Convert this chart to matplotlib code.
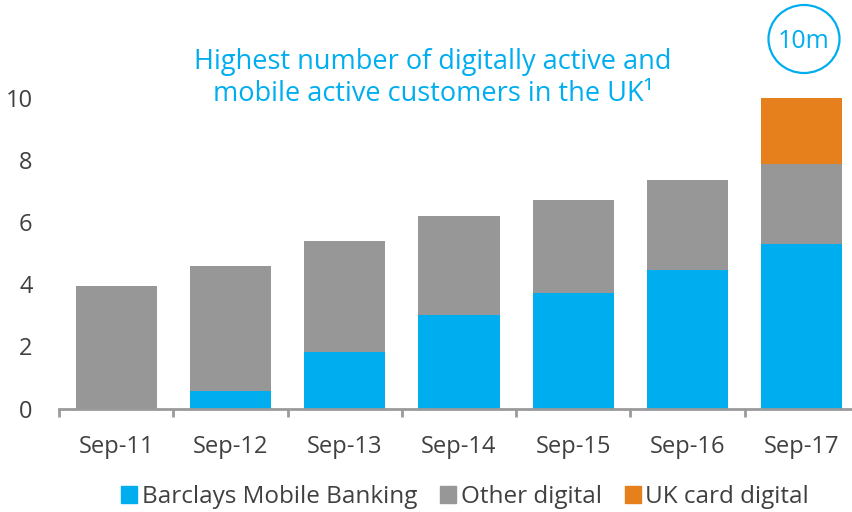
import matplotlib
matplotlib.use("Agg")
import matplotlib.pyplot as plt
from matplotlib.patches import Ellipse, Rectangle

categories = ["Sep-11", "Sep-12", "Sep-13", "Sep-14", "Sep-15", "Sep-16", "Sep-17"]
mobile = [0.0, 0.55, 1.83, 3.0, 3.73, 4.47, 5.29]
other = [3.95, 4.04, 3.56, 3.2, 2.98, 2.88, 2.58]
card = [0.0, 0.0, 0.0, 0.0, 0.0, 0.0, 2.13]
yticks = [0, 2, 4, 6, 8, 10]
series_names = ["Barclays Mobile Banking", "Other digital", "UK card digital"]

C_BLUE = "#00AEEF"
C_GREY = "#979797"
C_ORANGE = "#E5801C"
TXT = "#404040"
FONT = "Open Sans"

plt.rcParams["font.family"] = [FONT, "DejaVu Sans"]

W, H = 853, 512
fig = plt.figure(figsize=(W / 100, H / 100), dpi=100)

x0, x1 = 59, 859
yb = 408.5
ppu = 31.05
ymax = 11
ax = fig.add_axes([x0 / W, (H - yb) / H, (x1 - x0) / W, ymax * ppu / H])

x = list(range(len(categories)))
bw = 0.71
ax.bar(x, mobile, width=bw, color=C_BLUE, edgecolor="none")
ax.bar(x, other, width=bw, bottom=mobile, color=C_GREY, edgecolor="none")
bottom2 = [m + o for m, o in zip(mobile, other)]
ax.bar(x, card, width=bw, bottom=bottom2, color=C_ORANGE, edgecolor="none")

ax.set_xlim(-0.5, len(categories) - 0.5)
ax.set_ylim(0, ymax)
for s in ["top", "right", "left"]:
    ax.spines[s].set_visible(False)
ax.spines["bottom"].set_color("#9a9a9a")
ax.spines["bottom"].set_linewidth(2)

ax.set_xticks(x)
ax.set_xticklabels(categories, fontsize=17, color=TXT)
ax.tick_params(axis="x", which="major", length=0, pad=19)
ax.set_xticks([i - 0.5 for i in range(len(categories) + 1)], minor=True)
ax.tick_params(axis="x", which="minor", length=6, width=2, color="#9a9a9a")

ax.set_yticks(yticks)
ax.set_yticklabels([str(v) for v in yticks], fontsize=17, color=TXT)
ax.tick_params(axis="y", length=0, pad=19)

fig.text(433 / W, 1 - 78 / H,
         "Highest number of digitally active and\nmobile active customers in the UK\u00b9",
         ha="center", va="center", fontsize=19.5, color=C_BLUE, linespacing=1.15)

# circle badge
ell = Ellipse((804 / W, 1 - 39 / H), 71 / W, 68 / H, transform=fig.transFigure,
              fill=False, edgecolor=C_BLUE, linewidth=1.6)
fig.add_artist(ell)
fig.text(804 / W, 1 - 41 / H, "10m", ha="center", va="center", fontsize=18, color=C_BLUE)

# legend
handles = [Rectangle((0, 0), 1, 1, color=c) for c in (C_BLUE, C_GREY, C_ORANGE)]
fig.legend(handles, series_names, loc="center", bbox_to_anchor=(465 / W, 1 - 497 / H),
           ncol=3, frameon=False, fontsize=17.5, handlelength=0.65, handleheight=0.65,
           handletextpad=0.2, columnspacing=0.95, labelcolor=TXT)

fig.savefig("out.png", dpi=100)
